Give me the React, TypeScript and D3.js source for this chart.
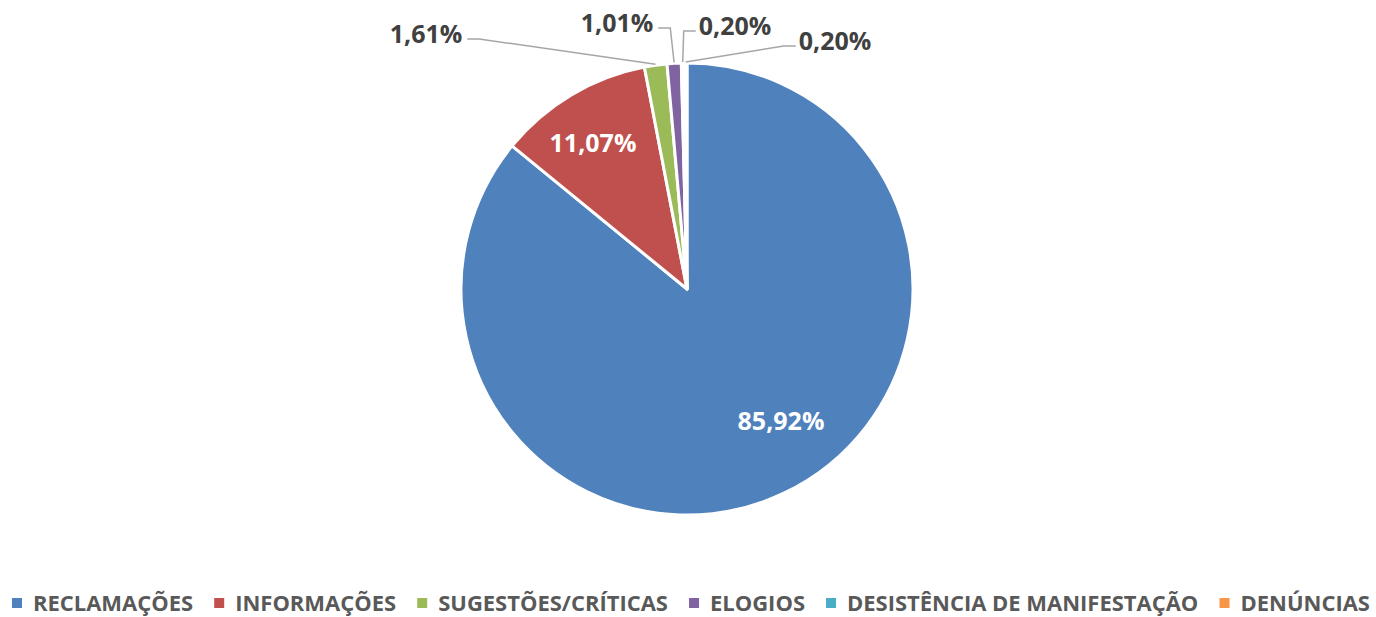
import React, { useEffect, useRef } from "react";
import * as d3 from "d3";

const categories = [
  "RECLAMAÇÕES",
  "INFORMAÇÕES",
  "SUGESTÕES/CRÍTICAS",
  "ELOGIOS",
  "DESISTÊNCIA DE MANIFESTAÇÃO",
  "DENÚNCIAS",
];
const values = [85.92, 11.07, 1.61, 1.01, 0.2, 0.2];
const valueLabels = ["85,92%", "11,07%", "1,61%", "1,01%", "0,20%", "0,20%"];
const colors = ["#4f81bd", "#c0504d", "#9bbb59", "#8064a2", "#4bacc6", "#f79646"];

// layout (not data)
const W = 1376;
const H = 617;
const CX = 687;
const CY = 289;
const R = 226;
const FONT = "'Open Sans', 'DejaVu Sans', sans-serif";
// label text centres relative to pie centre; inside labels have no leader line
const labelPos: { dx: number; dy: number; inside: boolean }[] = [
  { dx: 94, dy: 131, inside: true },
  { dx: -94, dy: -147, inside: true },
  { dx: -261, dy: -256, inside: false },
  { dx: -70, dy: -267, inside: false },
  { dx: 48, dy: -264, inside: false },
  { dx: 148, dy: -249, inside: false },
];

export default function App() {
  const ref = useRef<SVGSVGElement | null>(null);

  useEffect(() => {
    const svg = d3.select(ref.current);
    svg.selectAll("*").remove();

    const pie = d3
      .pie<number>()
      .sort(null)
      .value((d) => d)
      .startAngle(0)
      .endAngle(2 * Math.PI);
    const arcs = pie(values);
    const arc = d3.arc<d3.PieArcDatum<number>>().innerRadius(0).outerRadius(R);

    const g = svg.append("g").attr("transform", `translate(${CX},${CY})`);
    g.selectAll("path.slice")
      .data(arcs)
      .join("path")
      .attr("class", "slice")
      .attr("d", arc as any)
      .attr("fill", (_, i) => colors[i])
      .attr("stroke", "#ffffff")
      .attr("stroke-width", 3)
      .attr("stroke-linejoin", "round");

    arcs.forEach((a, i) => {
      const mid = (a.startAngle + a.endAngle) / 2;
      const pos = labelPos[i];
      const t = g
        .append("text")
        .attr("x", pos.dx)
        .attr("y", pos.dy)
        .attr("text-anchor", "middle")
        .attr("dominant-baseline", "central")
        .attr("font-family", FONT)
        .attr("font-weight", 700)
        .attr("font-size", 25)
        .attr("fill", pos.inside ? "#ffffff" : "#404040")
        .text(valueLabels[i]);
      if (pos.inside) return;
      const tw = (t.node() as SVGTextElement).getComputedTextLength();
      const px = Math.sin(mid) * (R + 1);
      const py = -Math.cos(mid) * (R + 1);
      const leftSide = pos.dx < px;
      const sx = leftSide ? pos.dx + tw / 2 + 5 : pos.dx - tw / 2 - 3;
      const sy = pos.dy + 6;
      let ex = leftSide ? sx + 12 : sx - 12;
      if (leftSide && ex > px) ex = px;
      if (!leftSide && ex < px) ex = px;
      g.append("path")
        .attr("d", `M${sx},${sy}L${ex},${sy}L${px},${py}`)
        .attr("fill", "none")
        .attr("stroke", "#a6a6a6")
        .attr("stroke-width", 1.5);
    });

    // legend
    const lg = svg.append("g");
    const baseFs = 20;
    const texts = categories.map((c) =>
      lg
        .append("text")
        .attr("font-family", FONT)
        .attr("font-weight", 700)
        .attr("font-size", baseFs)
        .attr("fill", "#595959")
        .attr("dominant-baseline", "central")
        .text(c)
    );
    const widths = texts.map((t) => (t.node() as SVGTextElement).getComputedTextLength());
    const sq = 10;
    const gapIn = 11;
    const gapOut = 21;
    const fixed = categories.length * (sq + gapIn) + (categories.length - 1) * gapOut;
    const target = 1358;
    const scale = (target - fixed) / d3.sum(widths);
    const fs = baseFs * scale;
    let x = (W - target) / 2 + 3;
    const ly = 602;
    texts.forEach((t, i) => {
      const w = widths[i] * scale;
      lg.append("rect")
        .attr("x", x)
        .attr("y", ly - sq / 2 + 1)
        .attr("width", sq)
        .attr("height", sq)
        .attr("fill", colors[i]);
      t.attr("font-size", fs).attr("x", x + sq + gapIn).attr("y", ly);
      x += sq + gapIn + w + gapOut;
    });
  }, []);

  return (
    <svg
      ref={ref}
      width={W}
      height={H}
      style={{ position: "absolute", left: 0, top: 0, background: "#ffffff" }}
    />
  );
}
